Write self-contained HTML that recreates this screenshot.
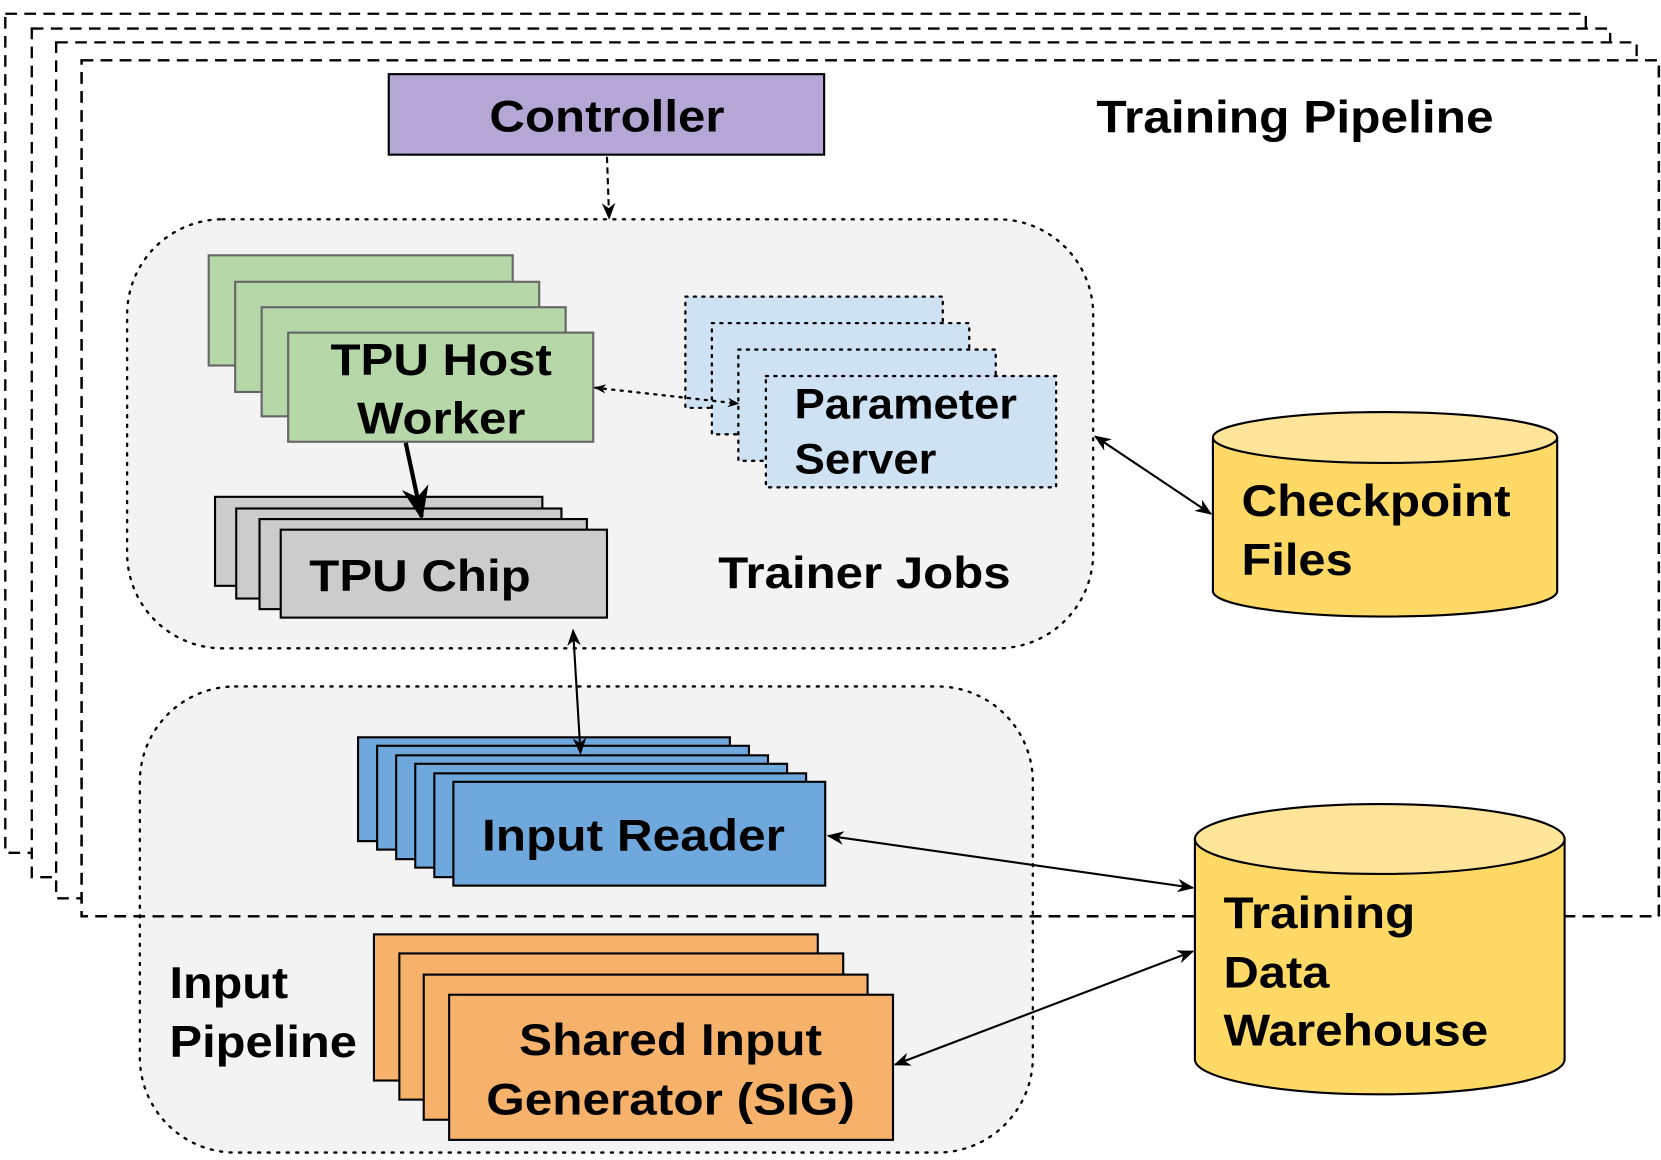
<!DOCTYPE html>
<html><head><style>html,body{margin:0;padding:0;background:#fff}svg{display:block}</style></head>
<body>
<svg width="1661" height="1160" viewBox="0 0 1568 1095" preserveAspectRatio="none" xmlns="http://www.w3.org/2000/svg" font-family="Liberation Sans, Arial, sans-serif" font-weight="bold">
<defs>
<marker id="a" viewBox="0 0 10 10" refX="9" refY="5" markerWidth="8" markerHeight="8" orient="auto-start-reverse"><path d="M0,1 L10,5 L0,9 L3,5 z" fill="#000"/></marker>
<marker id="b" viewBox="0 0 10 10" refX="9" refY="5" markerWidth="5" markerHeight="5" orient="auto-start-reverse"><path d="M0,1 L10,5 L0,9 L3,5 z" fill="#000"/></marker>
</defs>
<g fill="#fff" stroke="#000" stroke-width="2.2" stroke-dasharray="11,7">
<rect x="5" y="13" width="1492" height="792"/>
<rect x="30" y="27" width="1490" height="801"/>
<rect x="53" y="40" width="1492" height="808"/>
<rect x="77" y="57" width="1489" height="808"/>
</g>
<rect x="367" y="70" width="411" height="76" fill="#b4a7d6" stroke="#000" stroke-width="2"/>
<text x="462" y="124" font-size="42" textLength="222" lengthAdjust="spacingAndGlyphs">Controller</text>
<text x="1035" y="125" font-size="43" textLength="375" lengthAdjust="spacingAndGlyphs">Training Pipeline</text>
<line x1="573" y1="148" x2="575" y2="206" stroke="#000" stroke-width="2" stroke-dasharray="6,4" marker-end="url(#a)"/>
<rect x="120" y="207" width="912" height="405" rx="90" fill="#f3f3f3" stroke="#000" stroke-width="2.2" stroke-dasharray="2,7" stroke-linecap="round"/>
<g fill="#b6d7a8" stroke="#666" stroke-width="2">
<rect x="197" y="241" width="287" height="104"/>
<rect x="222" y="266" width="287" height="104"/>
<rect x="247" y="290" width="287" height="103"/>
<rect x="272" y="314" width="288" height="103"/>
</g>
<text x="312" y="354" font-size="42" textLength="209" lengthAdjust="spacingAndGlyphs">TPU Host</text>
<text x="337" y="409" font-size="42" textLength="159" lengthAdjust="spacingAndGlyphs">Worker</text>
<g fill="#cccccc" stroke="#000" stroke-width="2">
<rect x="203" y="469" width="309" height="84"/>
<rect x="223" y="480" width="307" height="85"/>
<rect x="245" y="490" width="309" height="85"/>
<rect x="265" y="500" width="308" height="83"/>
</g>
<text x="292" y="558" font-size="42" textLength="209" lengthAdjust="spacingAndGlyphs">TPU Chip</text>
<line x1="383" y1="418" x2="398" y2="488" stroke="#000" stroke-width="4" marker-end="url(#a)"/>
<g fill="#cfe2f3" stroke="#000" stroke-width="2.2" stroke-dasharray="2,6" stroke-linecap="round">
<rect x="647" y="280" width="243" height="105"/>
<rect x="672" y="305" width="243" height="105"/>
<rect x="697" y="330" width="243" height="105"/>
<rect x="723" y="355" width="274" height="105"/>
</g>
<text x="750" y="395" font-size="40" textLength="210" lengthAdjust="spacingAndGlyphs">Parameter</text>
<text x="750" y="447" font-size="40" textLength="134" lengthAdjust="spacingAndGlyphs">Server</text>
<line x1="562" y1="366" x2="697" y2="381" stroke="#000" stroke-width="2.2" stroke-dasharray="2,6" stroke-linecap="round" marker-start="url(#b)" marker-end="url(#b)"/>
<text x="678" y="555" font-size="42" textLength="276" lengthAdjust="spacingAndGlyphs">Trainer Jobs</text>
<rect x="132" y="648" width="843" height="440" rx="90" fill="#f3f3f3" stroke="#000" stroke-width="2.2" stroke-dasharray="2,7" stroke-linecap="round"/>
<rect x="77" y="57" width="1489" height="808" fill="none" stroke="#000" stroke-width="2.2" stroke-dasharray="11,7"/>
<g fill="#6fa8dc" stroke="#000" stroke-width="2">
<rect x="338" y="696" width="351" height="98"/>
<rect x="356" y="704" width="351" height="98"/>
<rect x="374" y="713" width="351" height="98"/>
<rect x="392" y="721" width="351" height="98"/>
<rect x="410" y="730" width="351" height="98"/>
<rect x="428" y="738" width="351" height="98"/>
</g>
<text x="455" y="803" font-size="42" textLength="286" lengthAdjust="spacingAndGlyphs">Input Reader</text>
<line x1="541" y1="595" x2="548" y2="711" stroke="#000" stroke-width="2" marker-start="url(#a)" marker-end="url(#a)"/>
<g fill="#f6b26b" stroke="#000" stroke-width="2">
<rect x="353" y="882" width="419" height="138"/>
<rect x="377" y="900" width="419" height="138"/>
<rect x="400" y="920" width="419" height="137"/>
<rect x="424" y="939" width="419" height="137"/>
</g>
<text x="490" y="996" font-size="42" textLength="286" lengthAdjust="spacingAndGlyphs">Shared Input</text>
<text x="459" y="1052" font-size="42" textLength="348" lengthAdjust="spacingAndGlyphs">Generator (SIG)</text>
<text x="160" y="942" font-size="42" textLength="112" lengthAdjust="spacingAndGlyphs">Input</text>
<text x="160" y="998" font-size="42" textLength="177" lengthAdjust="spacingAndGlyphs">Pipeline</text>
<path d="M1145,413 V558 A162.5,24 0 0 0 1470,558 V413" fill="#ffd966" stroke="#000" stroke-width="2"/>
<ellipse cx="1307.5" cy="413" rx="162.5" ry="24" fill="#ffe599" stroke="#000" stroke-width="2"/>
<text x="1172" y="487" font-size="42" textLength="254" lengthAdjust="spacingAndGlyphs">Checkpoint</text>
<text x="1172" y="543" font-size="42" textLength="105" lengthAdjust="spacingAndGlyphs">Files</text>
<line x1="1034" y1="412" x2="1143" y2="485" stroke="#000" stroke-width="2" marker-start="url(#a)" marker-end="url(#a)"/>
<path d="M1128,792 V1000 A174.5,33 0 0 0 1477,1000 V792" fill="#ffd966" stroke="#000" stroke-width="2"/>
<ellipse cx="1302.5" cy="792" rx="174.5" ry="33" fill="#ffe599" stroke="#000" stroke-width="2"/>
<text x="1155" y="876" font-size="42" textLength="181" lengthAdjust="spacingAndGlyphs">Training</text>
<text x="1155" y="932" font-size="42" textLength="100" lengthAdjust="spacingAndGlyphs">Data</text>
<text x="1155" y="987" font-size="42" textLength="250" lengthAdjust="spacingAndGlyphs">Warehouse</text>
<line x1="782" y1="789" x2="1126" y2="838" stroke="#000" stroke-width="2" marker-start="url(#a)" marker-end="url(#a)"/>
<line x1="845" y1="1005" x2="1126" y2="898" stroke="#000" stroke-width="2" marker-start="url(#a)" marker-end="url(#a)"/>
</svg>
</body></html>
